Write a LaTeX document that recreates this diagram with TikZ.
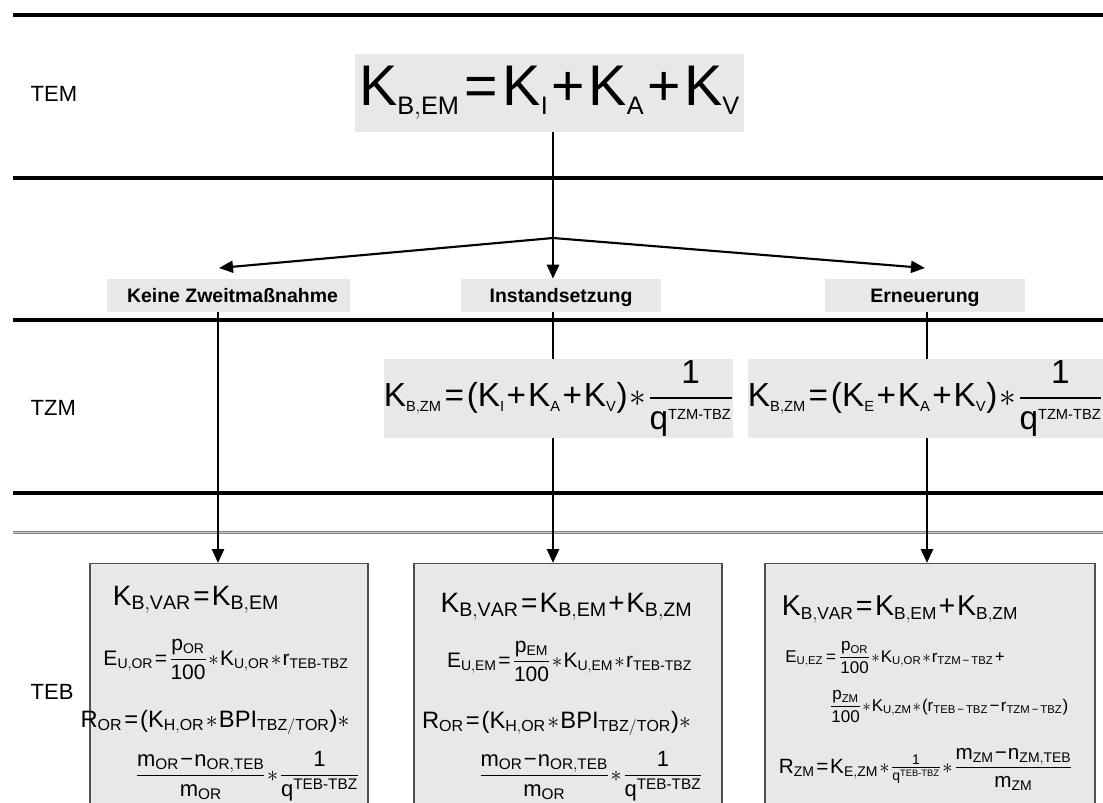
\documentclass[tikz,border=0pt]{standalone}
\usepackage{fix-cm}
\usepackage{amsmath}
\usepackage{fontspec}
\setmainfont{Liberation Sans}
\usetikzlibrary{positioning,arrows.meta}
\definecolor{boxgray}{HTML}{E8E8E8}
\definecolor{rahmen}{HTML}{505050}
\newcommand{\fsz}[1]{\fontsize{#1}{#1}\selectfont}
% Schriftgroessen der Formeln mit eigenen Index-Groessen
\DeclareMathSizes{43}{43}{19}{14}
\DeclareMathSizes{25}{25}{11}{9}
\DeclareMathSizes{21}{21}{14.7}{10}
\DeclareMathSizes{21.5}{21.5}{13}{9}
\DeclareMathSizes{15.75}{15.75}{10.5}{8}
\DeclareMathSizes{15.5}{15.5}{10.5}{7}
\DeclareMathSizes{17.8}{17.8}{12}{9}
\DeclareMathSizes{16.5}{16.5}{11.5}{8}
\DeclareMathSizes{12.75}{12.75}{8.5}{6}
\newcommand{\gl}{\mathrel{\text{=}}}
\newcommand{\pl}{\mathbin{\text{+}}}
\newcommand{\mi}{\mathbin{\text{−}}}
\newcommand{\ka}{\mathopen{\text{(}}}
\newcommand{\kz}{\mathclose{\text{)}}}
\newcommand{\bs}{\text{-}}
\thickmuskip=1.5mu plus 1mu
\medmuskip=1mu plus 1mu
\tikzset{
>={Triangle[length=10.5pt,width=9pt]},
trenner/.style={line width=3pt},
linie/.style={line width=2pt},
pfeil/.style={->, line width=1.6pt},
formel/.style={fill=boxgray, inner sep=0pt},
fall/.style={fill=boxgray, font=\fsz{14.6}\bfseries, inner sep=0pt, minimum height=24.75pt,
  text height=12pt, text depth=1.55pt},
ebene/.style={anchor=west, font=\fsz{16.5}},
ergebnis/.style={draw=rahmen, fill=boxgray, line width=1pt, anchor=north, minimum height=200pt},
zeile/.style={anchor=base, inner sep=0pt},
}

\begin{document}
\begin{tikzpicture}[x=0.75pt, y=-0.75pt]
    \useasboundingbox (0,0) rectangle (1103,803);
    \clip (0,0) rectangle (1103,803);

    % Ebenen
    \draw[trenner] (13,15) -- (1103,15);
    \draw[trenner] (13,178) -- (1103,178);
    \draw[trenner] (13,320) -- (1103,320);
    \draw[trenner] (13,493) -- (1103,493);
    \draw[draw=gray, double=gray!40, line width=0.75pt, double distance=0.75pt] (13,532) -- (1103,532);

    \node[ebene] (tem) at (26,94) {TEM};
    \node[ebene] (tzm) at (26,408) {TZM};
    \node[ebene] (teb) at (26,692) {TEB};

    \node[formel, minimum width=291.75pt, minimum height=58.5pt, font=\fsz{43}] (kbem) at (549.5,93)
        {$\mathrm{K_{B,EM}\gl K_I\pl K_A\pl K_V}$};

    \coordinate (verzw) at (553,238);
    \coordinate (c1) at (218,0);
    \coordinate (c2) at (553,0);
    \coordinate (c3) at (927,0);
    \coordinate (ziel1) at (219,268);
    \coordinate (ziel3) at (925,268);

    \node[fall, minimum width=182.25pt] (keine) at (228.5,295.5) {\hspace*{6pt}Keine Zweitmaßnahme};
    \node[fall, minimum width=150pt] (inst) at (561,295.5) {Instandsetzung};
    \node[fall, minimum width=150pt] (ern) at (925,295.5) {Erneuerung};

    \draw[linie] (kbem.south -| verzw) -- (verzw);
    \draw[pfeil] (verzw) -- (ziel1);
    \draw[pfeil, line width=2pt] (verzw) -- (inst.north -| verzw);
    \draw[pfeil] (verzw) -- (ziel3);

    % TZM
    \node[formel, minimum width=258.75pt, minimum height=59.25pt, font=\fsz{25}] (kzm1) at (558.5,398.5)
        {$\mathrm{K_{B,ZM}\gl\ka K_I\pl K_A\pl K_V\kz\ast\dfrac{1}{q^{TZM\bs TBZ}}}$};
    \node[formel, minimum width=249.75pt, minimum height=59.25pt, font=\fsz{25}] (kzm2) at (925.5,398.5)
        {$\mathrm{K_{B,ZM}\gl\ka K_E\pl K_A\pl K_V\kz\ast\dfrac{1}{q^{TZM\bs TBZ}}}$};

    \draw[linie] (inst.south -| c2) -- (kzm1.north -| c2);
    \draw[linie] (ern.south -| c3) -- (kzm2.north -| c3);

    % TEB
    \node[ergebnis, minimum width=208.5pt] (teb1) at (229,563) {};
    \node[ergebnis, minimum width=231pt] (teb2) at (568,563) {};
    \node[ergebnis, minimum width=247.5pt] (teb3) at (930,563) {};

    \draw[pfeil, line width=2pt] (keine.south -| c1) -- (teb1.north -| c1);
    \draw[pfeil, line width=2pt] (kzm1.south -| c2) -- (teb2.north -| c2);
    \draw[pfeil, line width=2pt] (kzm2.south -| c3) -- (teb3.north -| c3);

    \node[zeile, font=\fsz{21}] (f11) at (196,605) {$\mathrm{K_{B,VAR}\gl K_{B,EM}}$};
    \node[zeile, font=\fsz{15.75}] (f12) at (226,665)
        {$\mathrm{E_{U,OR}\gl\dfrac{p_{OR}}{100}\ast K_{U,OR}\ast r_{TEB\bs TBZ}}$};
    \node[zeile, font=\fsz{17.8}] (f13) at (215,727) {$\mathrm{R_{OR}\gl\ka K_{H,OR}\ast BPI_{TBZ/TOR}\kz\ast}$};
    \node[zeile, font=\fsz{16.5}] (f14) at (247.5,781)
        {$\mathrm{\dfrac{m_{OR}\mi n_{OR,TEB}}{m_{OR}}\ast\dfrac{1}{q^{TEB\bs TBZ}}}$};

    \node[zeile, font=\fsz{21}] (f21) at (566.5,612) {$\mathrm{K_{B,VAR}\gl K_{B,EM}\pl K_{B,ZM}}$};
    \node[zeile, font=\fsz{15.75}] (f22) at (569.5,667)
        {$\mathrm{E_{U,EM}\gl\dfrac{p_{EM}}{100}\ast K_{U,EM}\ast r_{TEB\bs TBZ}}$};
    \node[zeile, font=\fsz{17.8}] (f23) at (556.5,728) {$\mathrm{R_{OR}\gl\ka K_{H,OR}\ast BPI_{TBZ/TOR}\kz\ast}$};
    \node[zeile, font=\fsz{16.5}] (f24) at (591,781)
        {$\mathrm{\dfrac{m_{OR}\mi n_{OR,TEB}}{m_{OR}}\ast\dfrac{1}{q^{TEB\bs TBZ}}}$};

    \node[zeile, font=\fsz{21.5}] (f31) at (900,615) {$\mathrm{K_{B,VAR}\gl K_{B,EM}\pl K_{B,ZM}}$};
    \node[zeile, font=\fsz{12.75}] (f32) at (895,662)
        {$\mathrm{E_{U,EZ}\;\gl\;\dfrac{p_{OR}}{100}\ast K_{U,OR}\ast r_{TZM\,\text{−}\,TBZ}\;\text{+}}$};
    \node[zeile, font=\fsz{12.75}] (f33) at (949,711)
        {$\mathrm{\dfrac{p_{ZM}}{100}\ast K_{U,ZM}\ast\ka r_{TEB\,\text{−}\,TBZ}\;\text{−}\;r_{TZM\,\text{−}\,TBZ}\kz}$};
    \node[zeile, font=\fsz{15.5}] (f34) at (926,773)
        {$\mathrm{R_{ZM}\gl K_{E,ZM}\ast\frac{1}{q^{TEB\bs TBZ}}\ast\dfrac{m_{ZM}\mi n_{ZM,TEB}}{m_{ZM}}}$};
\end{tikzpicture}
\end{document}
